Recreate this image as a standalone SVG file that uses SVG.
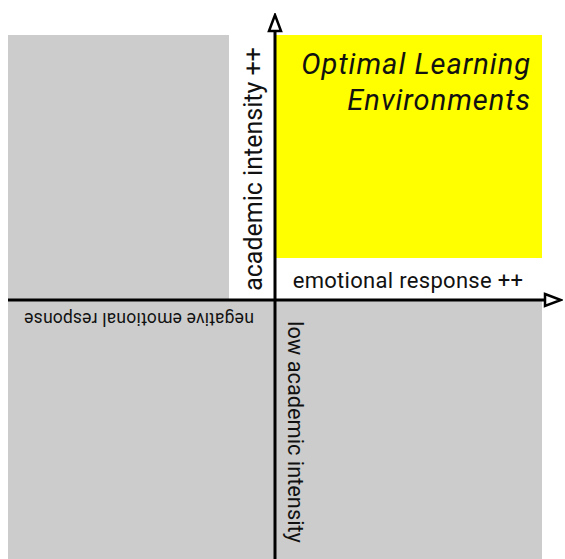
<svg xmlns="http://www.w3.org/2000/svg" width="565" height="559" viewBox="0 0 565 559">
<style>
.grey{fill:#cccccc}
.yellow{fill:#ffff00}
.lbl{font-family:Roboto,"Liberation Sans",sans-serif;fill:#111}
.axis{stroke:#000;stroke-width:3;fill:none}
</style>
<defs>
<marker id="arr" viewBox="0 0 20 16" refX="2" refY="8" markerWidth="20" markerHeight="16" markerUnits="userSpaceOnUse" orient="auto">
<path d="M2,2 L18,8 L2,14 Z" fill="#fff" stroke="#000" stroke-width="2.5" stroke-linejoin="miter"/>
</marker>
</defs>
<rect width="565" height="559" fill="#fff"/>
<g id="top-left">
<rect class="grey" x="8" y="35" width="221" height="264"/>
</g>
<g id="top-right">
<rect class="yellow" x="276" y="35" width="266" height="223"/>
<text class="lbl" x="531" y="74" font-size="29" font-style="italic" letter-spacing="1" text-anchor="end">Optimal Learning</text>
<text class="lbl" x="531" y="110" font-size="29" font-style="italic" letter-spacing="1" text-anchor="end">Environments</text>
</g>
<g id="bottom-left">
<rect class="grey" x="8" y="300" width="268" height="259"/>
<text class="lbl" transform="translate(139,313) rotate(180)" font-size="17.5" letter-spacing="0.2" text-anchor="middle">negative emotional response</text>
</g>
<g id="bottom-right">
<rect class="grey" x="275" y="300" width="267" height="259"/>
<text class="lbl" transform="translate(288,432) rotate(90)" font-size="21.8" text-anchor="middle">low academic intensity</text>
</g>
<g id="labels">
<text class="lbl" transform="translate(262,169) rotate(-90)" font-size="25" text-anchor="middle">academic intensity ++</text>
<text class="lbl" x="408" y="288" font-size="22" letter-spacing="0.3" text-anchor="middle">emotional response ++</text>
</g>
<g id="connectors">
<line class="axis" x1="275" y1="559" x2="275" y2="31" marker-end="url(#arr)"/>
<line class="axis" x1="8" y1="300" x2="545" y2="300" marker-end="url(#arr)"/>
</g>
</svg>
